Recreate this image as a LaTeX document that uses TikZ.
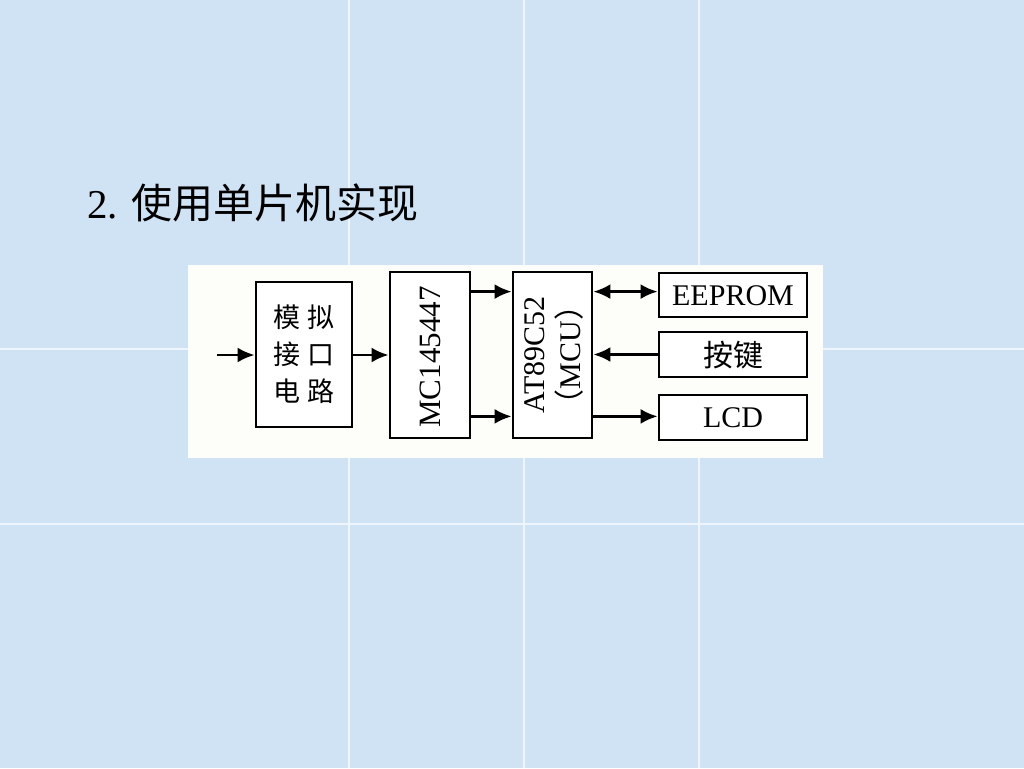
\documentclass[tikz,border=0pt]{standalone}
\usepackage{fontspec}
\setmainfont{Liberation Serif}
\newfontfamily\cjk{Noto Sans CJK SC}
\usetikzlibrary{arrows.meta}
\definecolor{bgblue}{RGB}{208,227,244}
\definecolor{tileline}{RGB}{238,245,252}
\definecolor{panel}{RGB}{253,253,250}
\tikzset{
  blk/.style={draw=black, line width=2.8pt, fill=white, inner sep=0pt},
  arr/.style={line width=2.8pt, -{Latex[length=17pt,width=15pt]}},
  darr/.style={line width=2.8pt, {Latex[length=17pt,width=15pt]}-{Latex[length=17pt,width=15pt]}},
  lbl/.style={inner sep=0pt, font=\fontsize{30}{36}\selectfont},
}
\begin{document}
\begin{tikzpicture}[x=1pt,y=-1pt]
\fill[bgblue] (0,0) rectangle (1024,768);
\useasboundingbox (0,0) rectangle (1024,768);
\foreach \xx in {349,524,699} \draw[tileline, line width=1.2pt] (\xx,0) -- (\xx,768);
\foreach \yy in {349,524} \draw[tileline, line width=1.2pt] (0,\yy) -- (1024,\yy);
\fill[panel] (188,265) rectangle (823,458);
\node[anchor=base west, inner sep=0pt, font=\fontsize{41}{46}\selectfont] (title) at (87,218) {2. {\cjk 使用单片机实现}};
% blocks
\node[blk, minimum width=96pt, minimum height=145pt] (b1) at (304,354.5) {};
\node[blk, minimum width=80pt, minimum height=166pt] (mc) at (430,355) {};
\node[blk, minimum width=79pt, minimum height=166pt] (at) at (552.5,355) {};
\node[blk, minimum width=148pt, minimum height=44pt] (ee) at (733,295) {};
\node[blk, minimum width=148pt, minimum height=45pt] (key) at (733,354.5) {};
\node[blk, minimum width=148pt, minimum height=45pt] (lcd) at (733,417.5) {};
% labels
\node[inner sep=0pt, align=center, font=\cjk\fontsize{27}{37}\selectfont] (b1txt) at (b1) {模\hspace{7pt}拟\\接\hspace{7pt}口\\电\hspace{7pt}路};
\node[lbl, rotate=90, font=\fontsize{31}{36}\selectfont] (mctxt) at (430,357) {MC145447};
\node[lbl, rotate=90, align=center] (attxt) at (554,355) {AT89C52\\{\cjk （}MCU{\cjk ）}};
\node[lbl] (eetxt) at (733,296) {EEPROM};
\node[lbl, font=\cjk\fontsize{30}{36}\selectfont] (keytxt) at (733,355) {按键};
\node[lbl] (lcdtxt) at (733,418) {LCD};
% connectors
\coordinate (in) at (217,355);
\draw[arr] (in) -- (in -| b1.west);
\draw[arr] (b1.east |- in) -- (in -| mc.west);
\draw[arr] ([yshift=-21pt]mc.north east) -- ([yshift=-21pt]at.north west);
\draw[arr] ([yshift=23pt]mc.south east) -- ([yshift=23pt]at.south west);
\draw[darr] ([yshift=-21pt]at.north east) -- ([yshift=-21pt]at.north east -| ee.west);
\draw[arr] (key.west) -- (key.west -| at.east);
\draw[arr] ([yshift=23pt]at.south east) -- ([yshift=23pt]at.south east -| lcd.west);
\end{tikzpicture}
\end{document}
